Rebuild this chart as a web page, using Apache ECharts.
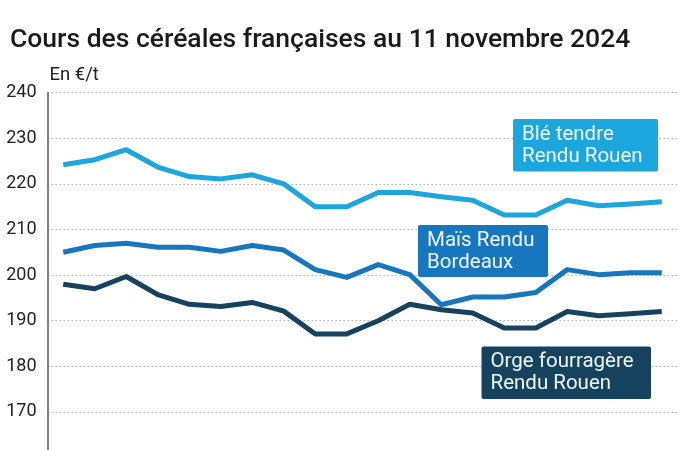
<!DOCTYPE html>
<html>
<head>
<meta charset="utf-8">
<script src="https://cdn.jsdelivr.net/npm/echarts@6/dist/echarts.min.js"></script>
<style>html,body{margin:0;padding:0;background:#fff}#c{width:700px;height:450px}</style>
</head>
<body>
<div id="c"></div>
<script>
var categories = ['1','2','3','4','5','6','7','8','9','10','11','12','13','14','15','16','17','18','19','20'];
var bleTendre = [224.2,225.3,227.5,223.7,221.6,221.1,222.0,220.0,215.0,215.0,218.1,218.1,217.2,216.4,213.2,213.2,216.4,215.2,215.6,216.1];
var mais = [205.0,206.5,207.0,206.1,206.1,205.2,206.5,205.5,201.2,199.5,202.3,200.1,193.5,195.2,195.2,196.2,201.2,200.1,200.5,200.5];
var orge = [198.0,197.0,199.7,195.7,193.6,193.1,194.0,192.1,187.1,187.1,190.0,193.6,192.4,191.7,188.4,188.4,192.0,191.1,191.5,192.0];
var seriesNames = ['Blé tendre\nRendu Rouen', 'Maïs Rendu\nBordeaux', 'Orge fourragère\nRendu Rouen'];
var colors = ['#1ba6de', '#1677bf', '#15435f'];

var chart = echarts.init(document.getElementById('c'), null, {renderer: 'canvas'});
function box(x, y, w, h, color, text) {
  return {
    type: 'group', left: x, top: y, z: 100,
    children: [
      {type: 'rect', z: 100, shape: {x: 0, y: 0, width: w, height: h, r: 2}, style: {fill: color}},
      {type: 'text', z: 101, x: 9, y: 4.5, style: {text: text, fill: '#eef7fc', font: '400 20.5px Roboto', lineHeight: 22}}
    ]
  };
}
chart.setOption({
  animation: false,
  textStyle: {fontFamily: 'Roboto'},
  title: {
    text: 'Cours des céréales françaises au 11 novembre 2024',
    left: 5, top: 22,
    textStyle: {fontFamily: 'Roboto', fontSize: 26.5, fontWeight: 500, color: '#1a1a1a'}
  },
  grid: {left: 47.5, width: 630, top: 92.7, height: 364.8, containLabel: false, outerBoundsMode: 'none'},
  xAxis: {
    type: 'category', data: categories, boundaryGap: true,
    axisLine: {show: false}, axisTick: {show: false}, axisLabel: {show: false}, splitLine: {show: false}
  },
  yAxis: {
    type: 'value', min: 160, max: 240, interval: 10,
    name: 'En €/t', nameLocation: 'end', nameGap: 8,
    nameTextStyle: {fontFamily: 'Roboto', fontSize: 18.5, color: '#222', align: 'left', padding: [0, 0, 0, 2]},
    axisLine: {show: true, lineStyle: {color: '#555', width: 1.5}},
    axisTick: {show: false},
    axisLabel: {fontFamily: 'Roboto', fontSize: 18, color: '#222', margin: 11, showMinLabel: false},
    splitLine: {show: true, lineStyle: {color: '#b0b0b0', type: [1.5, 2.5], width: 1.2}}
  },
  series: [
    {name: seriesNames[0], type: 'line', data: bleTendre, symbol: 'none', lineStyle: {width: 5, color: colors[0], join: 'round'}, itemStyle: {color: colors[0]}, z: 3},
    {name: seriesNames[1], type: 'line', data: mais, symbol: 'none', lineStyle: {width: 5, color: colors[1], join: 'round'}, itemStyle: {color: colors[1]}, z: 4},
    {name: seriesNames[2], type: 'line', data: orge, symbol: 'none', lineStyle: {width: 5, color: colors[2], join: 'round'}, itemStyle: {color: colors[2]}, z: 5}
  ],
  graphic: [
    box(513, 119, 145, 52.5, colors[0], seriesNames[0]),
    box(418, 225, 130, 52, colors[1], seriesNames[1]),
    box(481.5, 346.5, 169.5, 52.5, colors[2], seriesNames[2])
  ]
});
</script>
</body>
</html>
